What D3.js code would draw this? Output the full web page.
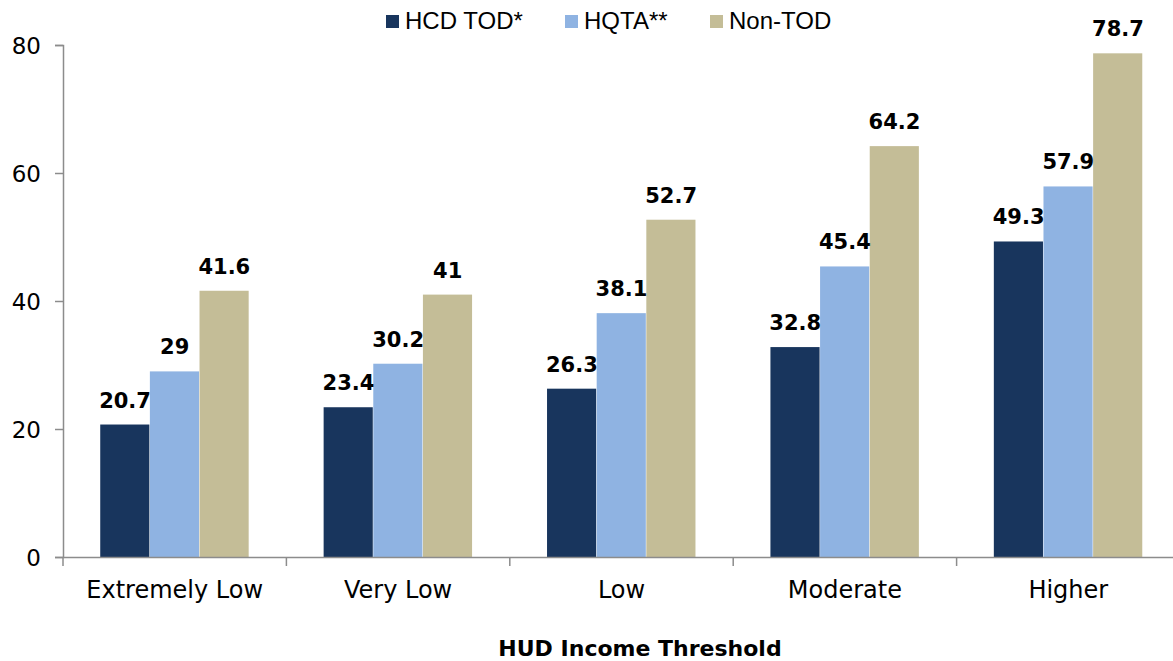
<!DOCTYPE html>
<html lang="en">
<head>
<meta charset="UTF-8">
<title>HUD Income Threshold</title>
<script src="https://cdn.jsdelivr.net/npm/d3@7"></script>
<style>
  body { margin: 0; background: #fff; }
  text { font-family: "DejaVu Sans", Verdana, sans-serif; fill: #000; }
</style>
</head>
<body>
<svg class="chart"></svg>
<script>
  // data
  const categories = ["Extremely Low", "Very Low", "Low", "Moderate", "Higher"];
  const seriesNames = ["HCD TOD*", "HQTA**", "Non-TOD"];
  const hcdTod = [20.7, 23.4, 26.3, 32.8, 49.3];
  const hqta = [29, 30.2, 38.1, 45.4, 57.9];
  const nonTod = [41.6, 41, 52.7, 64.2, 78.7];
  const yTicks = [0, 20, 40, 60, 80];
  const colors = ["#18355d", "#8fb3e2", "#c4bd97"];

  const width = 1173, height = 661;
  const svg = d3.select(".chart").attr("width", width).attr("height", height);

  const series = [hcdTod, hqta, nonTod];

  const x = d3.scaleBand().domain(categories).range([63, 1180]).padding(0);
  const xInner = d3.scaleBand().domain(seriesNames)
    .range([x.bandwidth() / 6, x.bandwidth() * 5 / 6]).padding(0);
  const y = d3.scaleLinear().domain([0, 80]).range([557, 45]);

  // bars
  const groups = svg.append("g").selectAll("g")
    .data(categories)
    .join("g")
    .attr("transform", d => `translate(${x(d)},0)`);

  groups.selectAll("rect")
    .data((d, i) => seriesNames.map((s, j) => ({ s, v: series[j][i], j })))
    .join("rect")
    .attr("x", d => xInner(d.s))
    .attr("width", xInner.bandwidth() - 0.5)
    .attr("y", d => y(d.v))
    .attr("height", d => y(0) - y(d.v))
    .attr("fill", d => colors[d.j]);

  groups.selectAll("text.lbl")
    .data((d, i) => seriesNames.map((s, j) => ({ s, v: series[j][i], j })))
    .join("text")
    .attr("class", "lbl")
    .attr("x", d => xInner(d.s) + xInner.bandwidth() / 2)
    .attr("y", d => y(d.v) - 17)
    .attr("text-anchor", "middle")
    .attr("font-size", 21)
    .attr("font-weight", "bold")
    .text(d => d.v);

  // axes
  const yAxis = svg.append("g")
    .attr("transform", "translate(63,0)")
    .call(d3.axisLeft(y).tickValues(yTicks).tickSize(8).tickPadding(14));
  yAxis.selectAll("text").attr("font-size", 23).attr("dy", "0.35em")
    .style("font-family", "'DejaVu Sans', sans-serif");
  yAxis.select(".domain").attr("stroke", "#8c8c8c").attr("stroke-width", 1.5);
  yAxis.selectAll(".tick line").attr("stroke", "#8c8c8c").attr("stroke-width", 1.5);

  const xAxis = svg.append("g")
    .attr("transform", "translate(0,557)")
    .call(d3.axisBottom(x).tickSize(0).tickPadding(24));
  xAxis.select(".domain").attr("stroke", "#8c8c8c").attr("stroke-width", 1.5);
  xAxis.selectAll("text").attr("font-size", 24)
    .style("font-family", "'DejaVu Sans', sans-serif");

  // boundary ticks between categories
  const bounds = categories.map(c => x(c)).concat([x.range()[1]]);
  svg.append("g").selectAll("line")
    .data(bounds)
    .join("line")
    .attr("x1", d => d).attr("x2", d => d)
    .attr("y1", 557).attr("y2", 566)
    .attr("stroke", "#8c8c8c").attr("stroke-width", 1.5);

  // axis title
  svg.append("text")
    .attr("x", 640).attr("y", 656)
    .attr("text-anchor", "middle")
    .attr("font-size", 22)
    .attr("font-weight", "bold")
    .text("HUD Income Threshold");

  // legend
  const legendX = [386, 565, 710];
  const legend = svg.append("g").selectAll("g")
    .data(seriesNames)
    .join("g")
    .attr("transform", (d, i) => `translate(${legendX[i]},15)`);
  legend.append("rect").attr("width", 13).attr("height", 13)
    .attr("fill", (d, i) => colors[i]);
  legend.append("text")
    .attr("x", 19).attr("y", 14)
    .attr("font-size", 24)
    .style("font-family", "'Liberation Sans', Arial, sans-serif")
    .text(d => d);
</script>
</body>
</html>
